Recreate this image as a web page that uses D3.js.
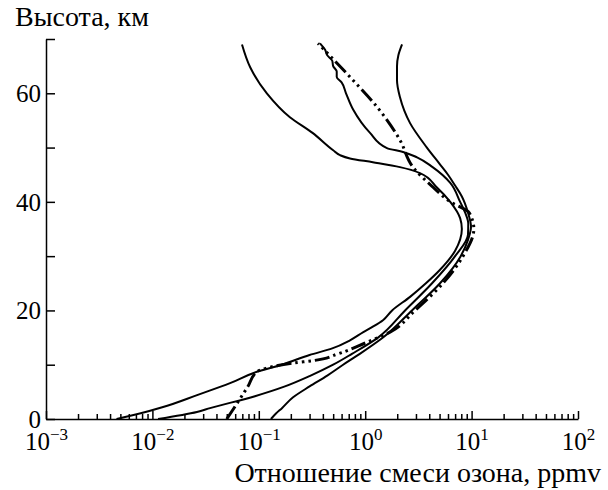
<!DOCTYPE html>
<html>
<head>
<meta charset="utf-8">
<script src="https://cdn.jsdelivr.net/npm/d3@7"></script>
<style>
  body { margin: 0; background: #fff; }
  svg { display: block; }
</style>
</head>
<body>
<svg id="chart" width="608" height="490" font-family="'Liberation Serif', 'DejaVu Serif', serif"></svg>
<script>
// altitude (km) and ozone mixing ratio (ppmv) for each profile
const alt1 = [0, 1, 2.2, 4.4, 6.6, 8.7, 10, 11.8, 13, 14.5, 16, 17, 18.2, 20, 22.5, 25, 27.4, 31, 35, 37, 40, 42.7, 45.3, 46.4, 47.3, 48, 48.6, 49.5, 52.7, 55.6, 60, 64.8, 69];
const ozone1 = [0.0046, 0.0076, 0.0126, 0.0263, 0.0537, 0.096, 0.165, 0.30, 0.49, 0.72, 0.96, 1.18, 1.47, 1.79, 2.64, 3.72, 5.0, 7.0, 8.1, 7.8, 6.3, 4.7, 3.27, 2.12, 1.18, 0.72, 0.58, 0.50, 0.32, 0.196, 0.119, 0.083, 0.0695];

const alt2 = [0, 1.3, 2, 4.2, 6, 7.9, 10, 12, 15, 20, 25, 30, 34, 36, 38, 40, 43.5, 46.4, 48.2, 49.2, 49.9, 52.7, 57, 60, 62, 63, 64, 65, 66, 67, 68, 69.2];
const ozone2 = [0.0113, 0.0262, 0.0348, 0.092, 0.176, 0.30, 0.50, 0.75, 1.32, 2.37, 4.25, 7.0, 9.25, 9.3, 8.7, 7.8, 6.3, 4.3, 3.07, 2.27, 1.6, 1.11, 0.77, 0.66, 0.60, 0.54, 0.54, 0.50, 0.49, 0.44, 0.42, 0.376];

const alt3 = [0, 1, 2, 4, 6, 8, 10, 12, 15, 20, 25, 30, 33, 35.4, 38, 41, 43, 45, 47, 50, 54.5, 59.3, 62.4, 65, 67, 69];
const ozone3 = [0.130, 0.145, 0.165, 0.21, 0.30, 0.44, 0.62, 0.89, 1.47, 2.75, 5.05, 7.9, 9.25, 9.87, 9.25, 8.1, 7.0, 6.0, 5.0, 3.8, 2.64, 2.12, 1.99, 1.99, 2.05, 2.22];

const altDash = [0, 3.7, 6, 8.7, 9.4, 10.3, 10.8, 12, 14, 16, 20, 25, 30, 35, 38, 40, 42.7, 46.4, 51.4, 57.5, 63, 69.2];
const ozoneDash = [0.050, 0.0665, 0.079, 0.096, 0.119, 0.209, 0.337, 0.555, 1.0, 1.71, 2.94, 5.38, 8.3, 10.5, 9.5, 6.3, 4.34, 2.81, 2.12, 1.29, 0.72, 0.36];

const xDecades = [-3, -2, -1, 0, 1, 2];
const yTicks = [0, 10, 20, 30, 40, 50, 60, 70];
const yLabeled = [0, 20, 40, 60];
const yTitle = "Высота, км";
const xTitle = "Отношение смеси озона, ppmv";

const svg = d3.select("#chart");

const x = d3.scaleLog().domain([1e-3, 1e2]).range([46, 578]);
const y = d3.scaleLinear().domain([0, 70]).range([419, 39]);

const minorTicks = [];
xDecades.slice(0, -1).forEach(e => {
  for (let k = 2; k <= 9; k++) minorTicks.push(k * Math.pow(10, e));
});

// x axis, minor ticks
svg.append("g")
  .attr("transform", `translate(0,${y(0)})`)
  .call(d3.axisBottom(x).tickValues(minorTicks).tickSize(-5).tickSizeOuter(0).tickFormat(""))
  .call(g => g.select(".domain").remove());

// x axis, decades
const xAxis = svg.append("g")
  .attr("transform", `translate(0,${y(0)})`)
  .call(d3.axisBottom(x).tickValues(xDecades.map(e => Math.pow(10, e))).tickSize(-8).tickSizeOuter(0));

xAxis.selectAll(".tick text").each(function (d) {
  const t = d3.select(this);
  const e = Math.round(Math.log10(d));
  t.text(null).attr("y", 31).attr("dy", 0);
  t.append("tspan").text("10");
  t.append("tspan").attr("dy", -10).attr("font-size", 17).text(e < 0 ? "\u2212" + (-e) : String(e));
});

// y axis
const yAxis = svg.append("g")
  .attr("transform", `translate(${x(1e-3)},0)`)
  .call(d3.axisLeft(y).tickValues(yTicks).tickSize(-9).tickSizeOuter(0).tickPadding(5)
    .tickFormat(d => yLabeled.includes(d) ? d : ""));
yAxis.selectAll(".tick text").attr("dy", "0.33em");

svg.selectAll("g").attr("font-family", null).attr("font-size", 25);
svg.selectAll(".domain, .tick line").attr("stroke", "#000").attr("stroke-width", 1.5);

const line = d3.line()
  .x(d => x(d[0]))
  .y(d => y(d[1]))
  .curve(d3.curveMonotoneY);

const solids = [[ozone1, alt1], [ozone2, alt2], [ozone3, alt3]];
solids.forEach(([v, h]) => {
  svg.append("path")
    .datum(d3.zip(v, h))
    .attr("fill", "none")
    .attr("stroke", "#000")
    .attr("stroke-width", 2)
    .attr("d", line);
});

svg.append("path")
  .datum(d3.zip(ozoneDash, altDash))
  .attr("fill", "none")
  .attr("stroke", "#000")
  .attr("stroke-width", 3)
  .attr("stroke-dasharray", "15,4,2.5,4,2.5,4,2.5,4")
  .attr("d", line);

// titles
svg.append("text")
  .attr("x", 15).attr("y", 26)
  .attr("font-size", 28)
  .text(yTitle);

svg.append("text")
  .attr("x", 601).attr("y", 482)
  .attr("text-anchor", "end")
  .attr("font-size", 28)
  .text(xTitle);
</script>
</body>
</html>
